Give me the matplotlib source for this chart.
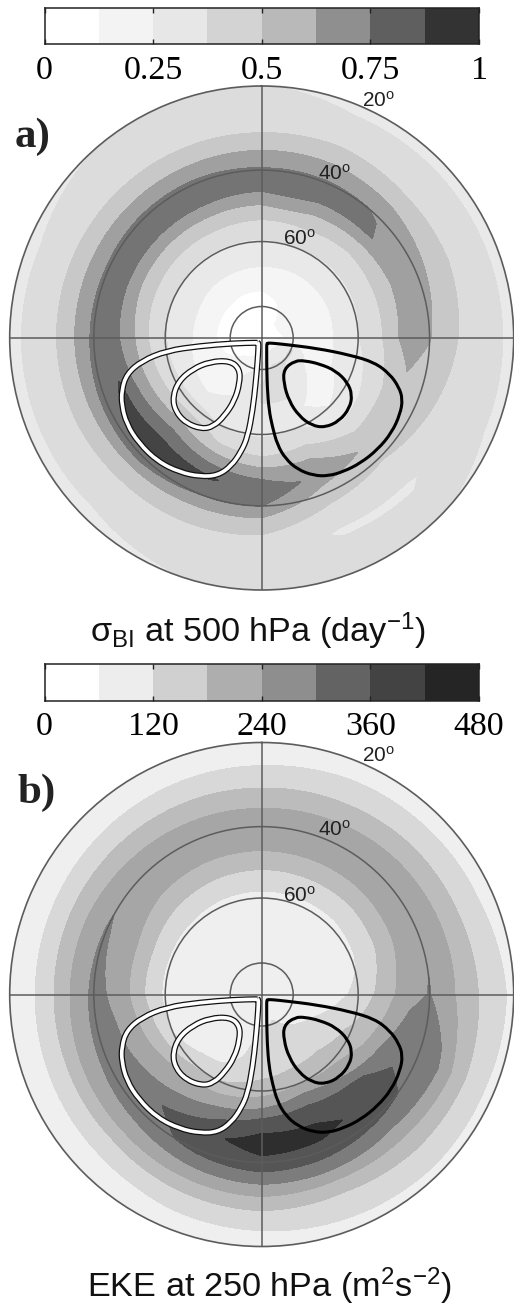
import numpy as np
import matplotlib
matplotlib.use("Agg")
import matplotlib.pyplot as plt
from matplotlib.path import Path
from matplotlib.patches import PathPatch

plt.rcParams['font.family'] = ['Liberation Sans', 'DejaVu Sans']
plt.rcParams['mathtext.fontset'] = 'custom'
plt.rcParams['mathtext.rm'] = 'Liberation Sans'
plt.rcParams['mathtext.it'] = 'Liberation Sans'
plt.rcParams['mathtext.bf'] = 'Liberation Sans:bold'

W, H = 514, 1306
MAP_R = 252

# grid the fields were read on: latitude rows, azimuth columns (clockwise from top)
lats = [20, 25, 30, 35, 40, 45, 50, 55, 60, 65, 70, 75, 80, 85, 90]
azimuths = [0, 22.5, 45, 67.5, 90, 112.5, 135, 157.5, 180, 202.5, 225, 247.5, 270, 292.5, 315, 337.5]

# one row per azimuth, one column per latitude
sigma_bi = [
    [.38, .41, .48, .625, .765, .77, .60, .46, .36, .29, .21, .125, .09, .08, .07],
    [.34, .41, .49, .625, .765, .77, .60, .47, .37, .28, .21, .14, .11, .09, .07],
    [.34, .41, .46, .60, .745, .76, .56, .44, .36, .27, .22, .18, .15, .12, .07],
    [.34, .41, .47, .57, .67, .68, .57, .44, .36, .27, .22, .18, .15, .12, .07],
    [.34, .41, .46, .53, .63, .71, .58, .44, .37, .28, .22, .17, .14, .11, .07],
    [.34, .41, .45, .49, .55, .56, .50, .39, .33, .26, .22, .22, .39, .22, .07],
    [.38, .40, .36, .45, .51, .60, .49, .35, .25, .12, .25, .30, .38, .25, .07],
    [.40, .41, .36, .46, .55, .71, .63, .48, .37, .33, .38, .38, .40, .25, .07],
    [.40, .42, .45, .54, .75, .83, .635, .44, .36, .34, .38, .38, .30, .15, .07],
    [.37, .41, .46, .55, .75, .89, .70, .50, .36, .28, .26, .30, .20, .10, .07],
    [.33, .405, .46, .56, .82, .94, .785, .60, .42, .27, .16, .15, .14, .10, .07],
    [.33, .41, .47, .60, .80, .90, .72, .54, .40, .29, .19, .15, .10, .08, .07],
    [.33, .415, .48, .62, .78, .80, .66, .50, .38, .30, .22, .13, .09, .07, .07],
    [.33, .41, .48, .62, .77, .79, .62, .48, .37, .30, .22, .13, .09, .07, .07],
    [.37, .42, .48, .62, .78, .79, .61, .47, .36, .29, .21, .13, .08, .07, .07],
    [.39, .42, .48, .62, .78, .79, .61, .47, .36, .29, .21, .125, .08, .07, .07],
]

eke = [
    [80, 118, 175, 236, 285, 255, 200, 140, 105, 95, 90, 85, 80, 80, 80],
    [85, 125, 180, 240, 287, 255, 200, 140, 105, 95, 90, 85, 80, 80, 80],
    [90, 128, 188, 247, 290, 255, 198, 138, 105, 95, 90, 85, 80, 80, 80],
    [95, 132, 192, 252, 295, 262, 205, 150, 110, 100, 92, 88, 85, 80, 80],
    [105, 150, 200, 255, 302, 283, 232, 182, 135, 110, 100, 95, 90, 85, 80],
    [100, 145, 225, 315, 345, 345, 300, 230, 190, 160, 125, 110, 100, 90, 80],
    [100, 148, 210, 295, 370, 395, 385, 285, 225, 180, 160, 125, 105, 95, 80],
    [95, 140, 195, 305, 390, 440, 400, 335, 235, 180, 165, 145, 125, 100, 80],
    [95, 130, 210, 310, 405, 445, 400, 295, 210, 165, 155, 140, 115, 95, 80],
    [90, 125, 195, 290, 375, 405, 345, 265, 185, 130, 105, 95, 90, 85, 80],
    [85, 115, 180, 270, 335, 352, 295, 250, 165, 105, 90, 85, 85, 85, 80],
    [80, 112, 178, 262, 320, 310, 270, 205, 118, 95, 90, 85, 85, 80, 80],
    [80, 110, 178, 255, 315, 292, 235, 165, 108, 92, 88, 85, 85, 80, 80],
    [80, 110, 178, 250, 304, 285, 230, 165, 108, 92, 88, 85, 85, 80, 80],
    [80, 112, 176, 240, 288, 258, 210, 150, 108, 95, 90, 85, 80, 80, 80],
    [80, 115, 175, 237, 286, 255, 202, 142, 105, 95, 90, 85, 80, 80, 80],
]

sigma_levels = [0, .125, .25, .375, .5, .625, .75, .875, 1]
eke_levels = [0, 60, 120, 180, 240, 300, 360, 420, 480]
sigma_ticks = [0, .25, .5, .75, 1]
sigma_ticklabels = ['0', '0.25', '0.5', '0.75', '1']
eke_ticks = [0, 120, 240, 360, 480]
eke_ticklabels = ['0', '120', '240', '360', '480']

sigma_map_colors = ['#ffffff', '#f5f5f5', '#e9e9e9', '#dcdcdc', '#c8c8c8', '#a0a0a0', '#747474', '#444444']
sigma_bar_colors = ['#ffffff', '#f3f3f3', '#e7e7e7', '#d3d3d3', '#b9b9b9', '#8f8f8f', '#5f5f5f', '#333333']
eke_map_colors = ['#ffffff', '#efefef', '#d8d8d8', '#bcbcbc', '#a6a6a6', '#7c7c7c', '#555555', '#2e2e2e']
eke_bar_colors = ['#ffffff', '#ededed', '#d0d0d0', '#aeaeae', '#8e8e8e', '#636363', '#434343', '#252525']

# storm track outlines, x east and y north of the pole in map pixels
east_outer_x = [5, 5, 6, 12, 21.7, 55, 88.3, 113, 128, 137, 141, 138.5, 130, 116, 99, 82, 66.7, 51.7, 36, 24, 15.7, 10.7, 7.3, 5.5, 5]
east_outer_y = [-12, -6, -5, -5.3, -6.3, -10.3, -17, -24.5, -36, -48.7, -61, -76, -94.7, -111.5, -125, -133.5, -138, -137.5, -131.5, -121, -107, -88.7, -72, -48.7, -25.3]
east_inner_x = [33.3, 22, 22, 27.3, 37.3, 50, 63.3, 77.7, 88, 90.5, 86, 74, 58.3, 43.3]
east_inner_y = [-22.7, -31, -45.3, -63, -78, -87.5, -89.5, -83, -70, -57, -44.5, -32.7, -26, -22.7]
west_outer_x = [-5, -28.3, -61.7, -95, -120, -135, -140, -140, -135, -123, -104, -82, -61.7, -44, -30.5, -20.7, -14, -9, -6, -4, -3.3, -3.3]
west_outer_y = [-4.7, -5.3, -8, -12.7, -23, -36, -52, -67, -86, -105, -123.5, -134.2, -138.5, -137.5, -128, -114, -98.7, -72, -45.3, -22, -10, -5]
west_inner_x = [-31.7, -22, -22, -27.3, -37.3, -48.3, -60, -76, -86.5, -89, -83, -69, -51.7]
west_inner_y = [-22.7, -31, -45.3, -63, -78, -88.5, -91, -85, -73, -58.7, -43, -31, -23.7]


def fx(px):
    return px / W


def fy(py):
    return 1 - py / H


def stereo_r(lat):
    return 360 * np.tan(np.radians(90 - np.asarray(lat, dtype=float)) / 2)


def smooth_loop(xs, ys):
    # closed quadratic spline with the read points as control points
    pts = np.column_stack([xs, ys])
    mids = (pts + np.roll(pts, -1, axis=0)) / 2
    verts = [mids[-1]]
    codes = [Path.MOVETO]
    for p, m in zip(pts, mids):
        verts += [p, m]
        codes += [Path.CURVE3, Path.CURVE3]
    return Path(verts, codes)


def draw_colorbar(top, bottom, levels, colors, ticks, ticklabels):
    left, right = 44.5, 479
    ax = fig.add_axes([fx(left), fy(bottom), fx(right - left), (bottom - top) / H])
    vals = np.array([(levels[i] + levels[i + 1]) / 2 for i in range(len(colors))])[None, :]
    ax.pcolormesh(levels, [0, 1], vals, cmap=matplotlib.colors.ListedColormap(colors),
                  norm=matplotlib.colors.BoundaryNorm(levels, len(colors)))
    ax.set_yticks([])
    ax.set_xticks(ticks)
    ax.set_xticklabels(ticklabels, family='Liberation Serif', fontsize=24.5)
    ax.tick_params(axis='x', direction='in', length=3.5, width=1, top=True, bottom=True, pad=8, color='#222222')
    for s in ax.spines.values():
        s.set_linewidth(1.1)
        s.set_color('#222222')


def draw_map(cy, field, levels, colors):
    cx = 261.7
    rect = [fx(cx - MAP_R), fy(cy + MAP_R), 2 * MAP_R / W, 2 * MAP_R / H]
    ax = fig.add_axes(rect, projection='polar')
    ax.set_theta_zero_location('N')
    ax.set_theta_direction(-1)

    # wrap round and flip so the radius increases along the rows
    z = np.array(field, dtype=float).T[::-1]
    z = np.column_stack([z, z[:, 0]])
    th = np.radians(np.r_[azimuths, 360.0])
    r = stereo_r(lats)[::-1]
    cs = ax.contourf(th, r, z, levels=levels, colors=colors, zorder=1)
    # keep contour segments curved after the polar transform
    cs.set_paths([Path(p.vertices, p.codes, _interpolation_steps=10) for p in cs.get_paths()])
    cs.set_edgecolor('face')
    cs.set_linewidth(0.4)

    ax.set_rlim(0, MAP_R)
    ax.set_rgrids(stereo_r([80, 60, 40]), labels=[])
    ax.set_thetagrids([0, 90, 180, 270], labels=[])
    ax.set_axisbelow(False)
    ax.grid(True, color='#5c5c5c', linewidth=1.1)
    ax.spines['polar'].set_color('#5c5c5c')
    ax.spines['polar'].set_linewidth(1.2)

    # outlines on a plain overlay with the same pixel scale
    ov = fig.add_axes(rect)
    ov.set_xlim(-MAP_R, MAP_R)
    ov.set_ylim(-MAP_R, MAP_R)
    ov.axis('off')
    ov.patch.set_alpha(0)
    for xs, ys in [(west_outer_x, west_outer_y), (west_inner_x, west_inner_y)]:
        path = smooth_loop(xs, ys)
        ov.add_patch(PathPatch(path, fill=False, edgecolor='#111111', linewidth=4.4))
        ov.add_patch(PathPatch(path, fill=False, edgecolor='white', linewidth=2.6))
    for xs, ys in [(east_outer_x, east_outer_y), (east_inner_x, east_inner_y)]:
        ov.add_patch(PathPatch(smooth_loop(xs, ys), fill=False, edgecolor='black', linewidth=2.2))


fig = plt.figure(figsize=(W / 100, H / 100), dpi=100)

draw_map(338, sigma_bi, sigma_levels, sigma_map_colors)
draw_map(994.5, eke, eke_levels, eke_map_colors)
draw_colorbar(7.5, 44.3, sigma_levels, sigma_bar_colors, sigma_ticks, sigma_ticklabels)
draw_colorbar(664, 700.7, eke_levels, eke_bar_colors, eke_ticks, eke_ticklabels)

for left, base, lab in [(362, 106.7, '20'), (318, 180, '40'), (283, 245, '60'),
                        (362, 761.7, '20'), (318, 836, '40'), (283, 901.7, '60')]:
    fig.text(fx(left), fy(base), lab + r'$^{\mathrm{o}}$', fontsize=15, color='#222222', ha='left', va='baseline')

fig.text(fx(15), fy(147), 'a)', family='Liberation Serif', fontsize=31, fontweight='bold', color='#222222', va='baseline')
fig.text(fx(17), fy(803), 'b)', family='Liberation Serif', fontsize=31, fontweight='bold', color='#222222', va='baseline')

fig.text(fx(258), fy(642), r'$\sigma_{\mathrm{BI}}$ at 500 hPa (day$^{-1}$)', fontsize=24.7, ha='center', va='baseline', color='#111111')
fig.text(fx(269), fy(1297), r'EKE at 250 hPa (m$^{2}$s$^{-2}$)', fontsize=24.7, ha='center', va='baseline', color='#111111')

fig.savefig('out.png', dpi=100)
